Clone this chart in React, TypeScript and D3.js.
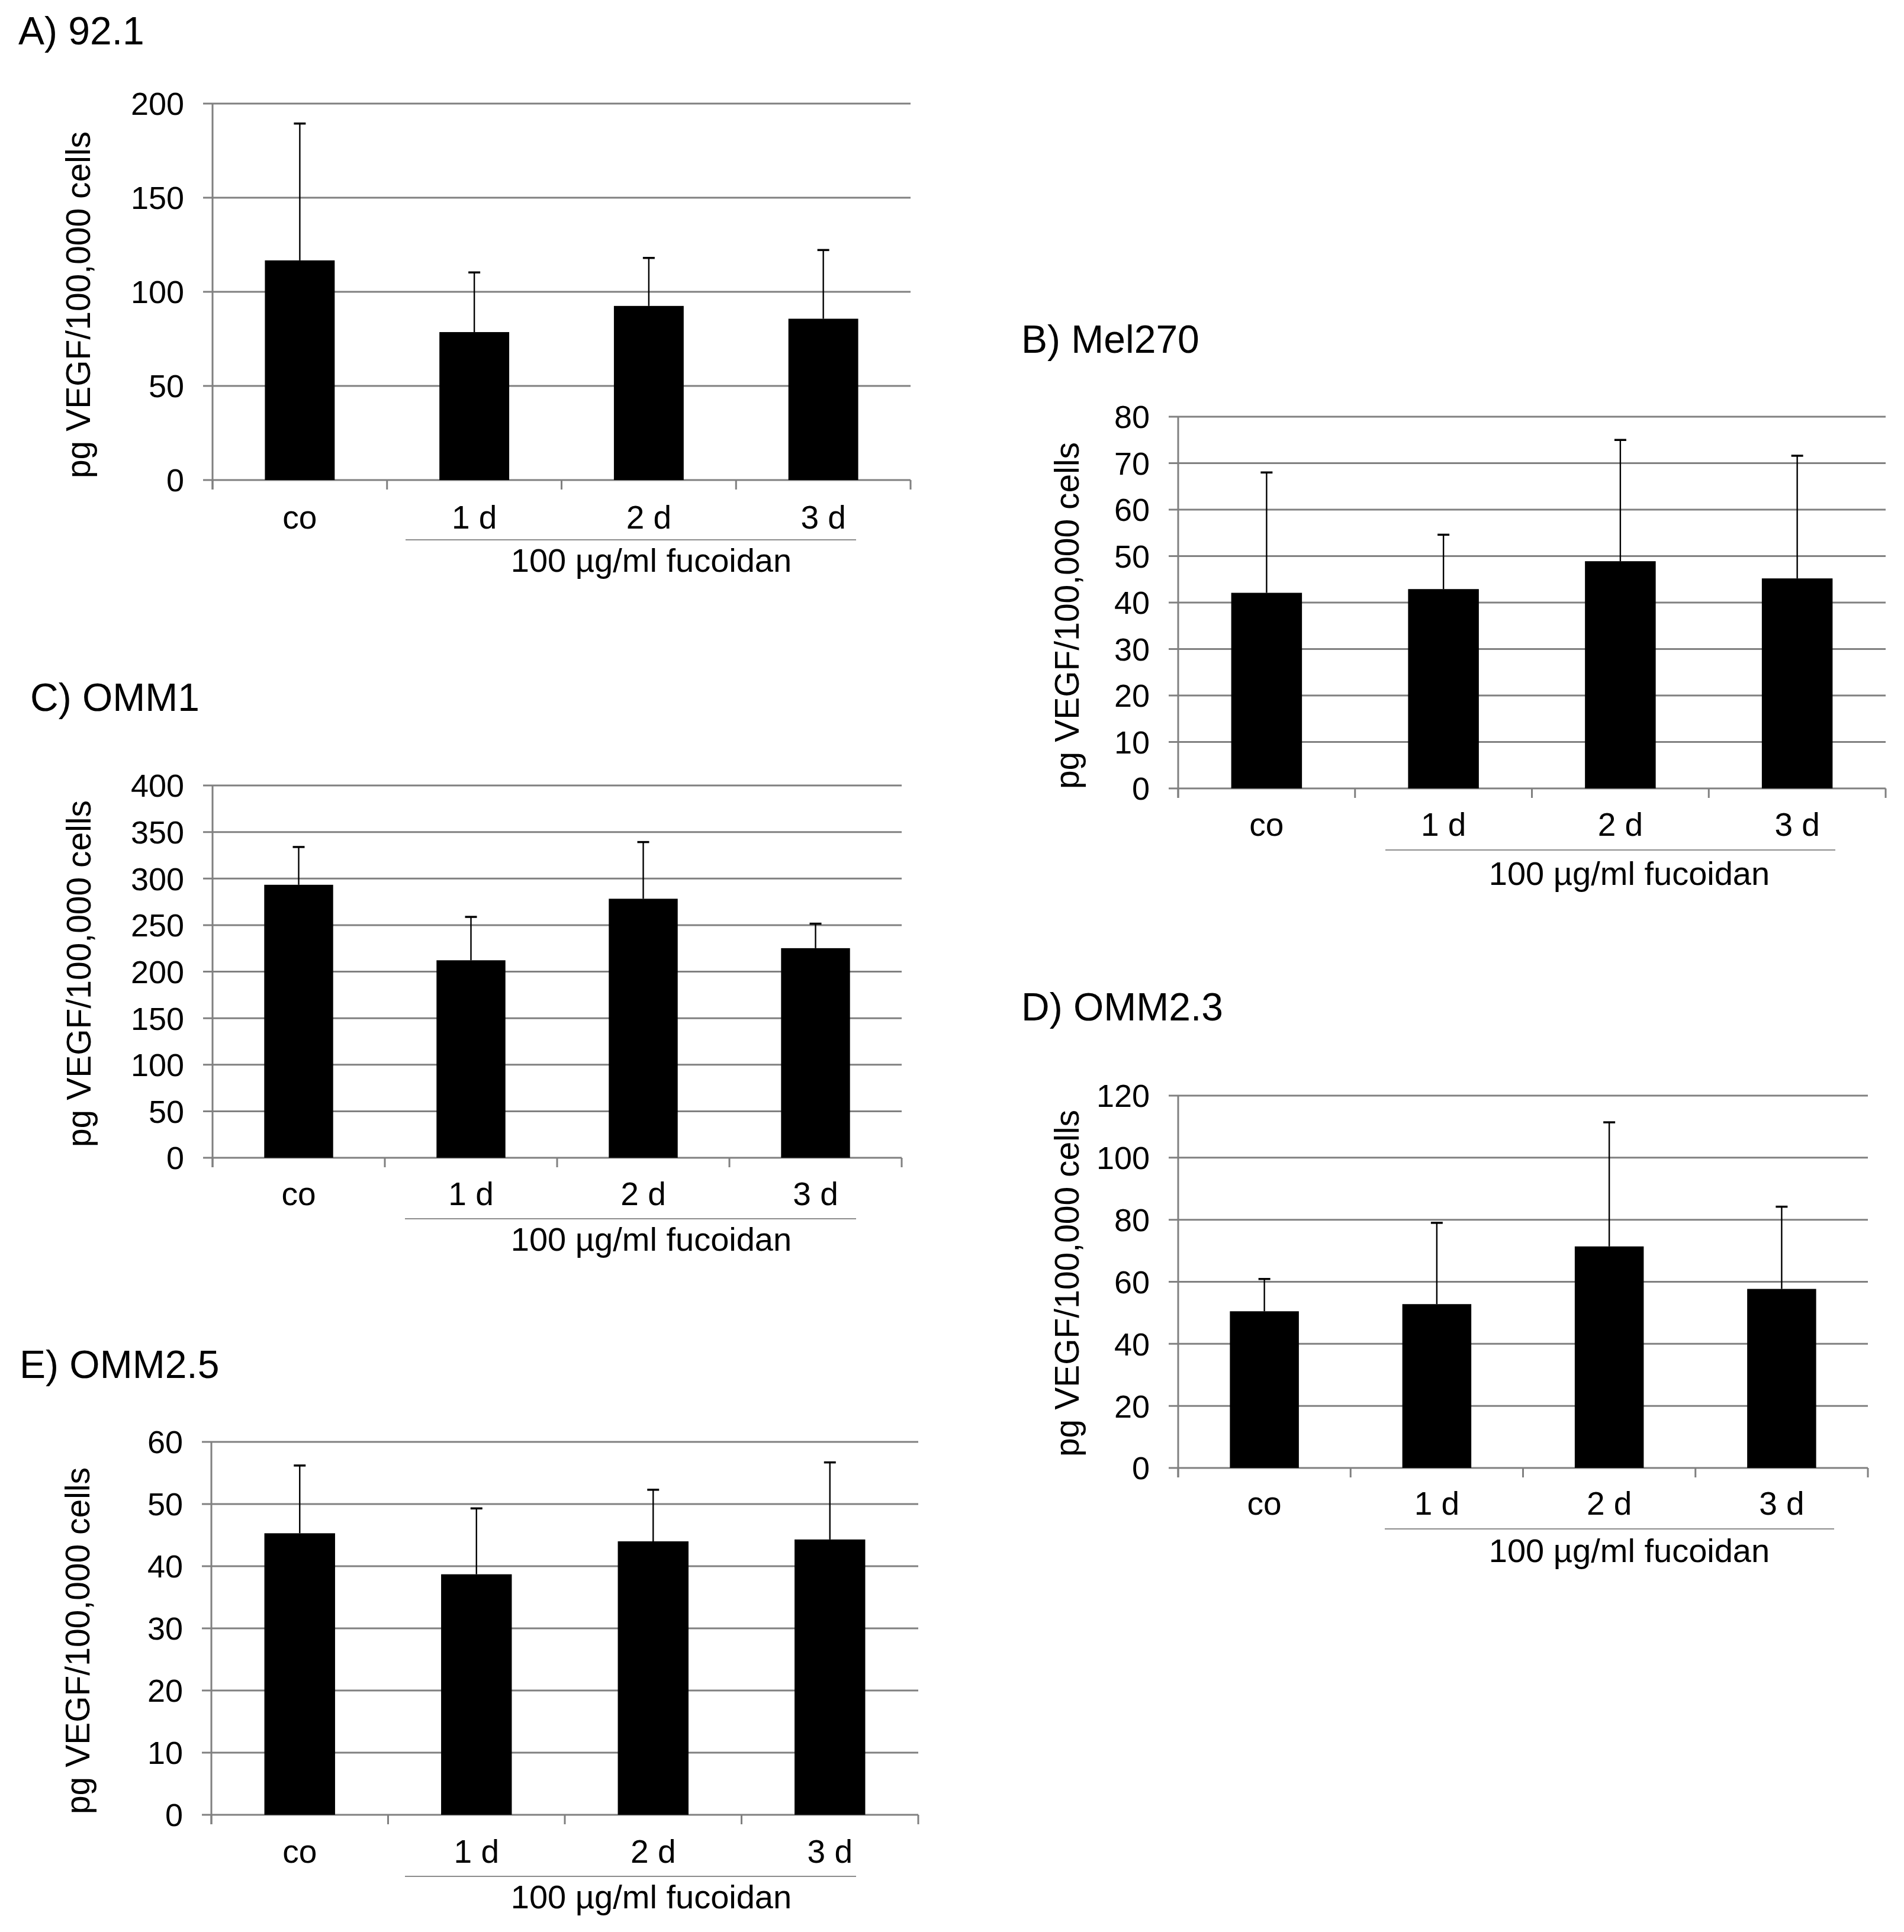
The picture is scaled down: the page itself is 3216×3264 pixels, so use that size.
import * as d3 from 'd3';

// groups on the x axis
const categories = ['co', '1 d', '2 d', '3 d'];

// panel titles
const titles = ['A) 92.1', 'B) Mel270', 'C) OMM1', 'D) OMM2.3', 'E) OMM2.5'];

// mean VEGF per panel
const meanA = [116.7, 78.6, 92.5, 85.7];
const meanB = [42.1, 42.9, 48.9, 45.2];
const meanC = [293.3, 212.2, 278.3, 225.2];
const meanD = [50.5, 52.8, 71.4, 57.7];
const meanE = [45.3, 38.7, 44.0, 44.3];

// standard deviation (upper error bar only)
const sdA = [72.7, 31.7, 25.5, 36.5];
const sdB = [25.9, 11.7, 26.1, 26.4];
const sdC = [40.6, 46.6, 60.9, 26.3];
const sdD = [10.4, 26.2, 40.0, 26.5];
const sdE = [10.9, 10.6, 8.3, 12.4];

// y axis ticks
const ticksA = [0, 50, 100, 150, 200];
const ticksB = [0, 10, 20, 30, 40, 50, 60, 70, 80];
const ticksC = [0, 50, 100, 150, 200, 250, 300, 350, 400];
const ticksD = [0, 20, 40, 60, 80, 100, 120];
const ticksE = [0, 10, 20, 30, 40, 50, 60];

const yLabel = 'pg VEGF/100,000 cells';
const treatment = '100 µg/ml fucoidan';

const FONT = '"Liberation Sans", Arial, Helvetica, sans-serif';
const GRID = '#808080';

interface Layout {
  left: number; right: number; top: number; bottom: number;
  titleX: number; titleY: number;
  catY: number; lineY: number; lineX1: number; lineX2: number;
  noteX: number; noteY: number;
  labelX: number; labelCY: number;
}

const layouts: Layout[] = [
  { left: 359, right: 1538, top: 175, bottom: 811, titleX: 31, titleY: 75, catY: 893, lineY: 912, lineX1: 685, lineX2: 1446, noteX: 1100, noteY: 966, labelX: 152, labelCY: 515 },
  { left: 1990, right: 3185, top: 704, bottom: 1332, titleX: 1725, titleY: 596, catY: 1412, lineY: 1436, lineX1: 2340, lineX2: 3100, noteX: 2752, noteY: 1495, labelX: 1822, labelCY: 1040 },
  { left: 359, right: 1523, top: 1327, bottom: 1956, titleX: 51, titleY: 1201, catY: 2036, lineY: 2059, lineX1: 684, lineX2: 1446, noteX: 1100, noteY: 2113, labelX: 153, labelCY: 1645 },
  { left: 1990, right: 3155, top: 1851, bottom: 2480, titleX: 1725, titleY: 1724, catY: 2559, lineY: 2583, lineX1: 2339, lineX2: 3098, noteX: 2752, noteY: 2639, labelX: 1822, labelCY: 2168 },
  { left: 357, right: 1551, top: 2436, bottom: 3066, titleX: 33, titleY: 2328, catY: 3147, lineY: 3170, lineX1: 684, lineX2: 1446, noteX: 1100, noteY: 3224, labelX: 151, labelCY: 2772 },
];

const means = [meanA, meanB, meanC, meanD, meanE];
const sds = [sdA, sdB, sdC, sdD, sdE];
const ticks = [ticksA, ticksB, ticksC, ticksD, ticksE];

const Panel = ({ idx }: { idx: number }) => {
  const L = layouts[idx];
  const mean = means[idx];
  const sd = sds[idx];
  const tv = ticks[idx];

  const x = d3.scaleBand<string>()
    .domain(categories)
    .range([L.left, L.right])
    .paddingInner(0)
    .paddingOuter(0);
  const y = d3.scaleLinear()
    .domain([0, tv[tv.length - 1]])
    .range([L.bottom, L.top]);

  const bw = x.bandwidth();
  const barW = bw * 0.4;
  const boundaries = [...categories.map(c => x(c) as number), L.right];

  return (
    <g>
      <text x={L.titleX} y={L.titleY} fontSize={66} fontFamily={FONT} fill="#000">{titles[idx]}</text>

      {/* grid */}
      {tv.map(t => (
        <g key={t}>
          <line x1={L.left - 16} x2={L.right} y1={y(t)} y2={y(t)} stroke={GRID} strokeWidth={3} />
          <text x={L.left - 48} y={y(t)} dy="0.36em" textAnchor="end" fontSize={54} fontFamily={FONT} fill="#000">{t}</text>
        </g>
      ))}

      {/* y axis */}
      <line x1={L.left} x2={L.left} y1={L.top} y2={L.bottom + 16} stroke={GRID} strokeWidth={3} />
      {boundaries.map((b, i) => (
        <line key={i} x1={b} x2={b} y1={L.bottom} y2={L.bottom + 16} stroke={GRID} strokeWidth={3} />
      ))}

      {/* bars + error bars */}
      {categories.map((c, i) => {
        const cx = (x(c) as number) + bw / 2;
        const top = y(mean[i] + sd[i]);
        return (
          <g key={c}>
            <line x1={cx} x2={cx} y1={y(mean[i])} y2={top} stroke="#000" strokeWidth={2.4} />
            <line x1={cx - 10} x2={cx + 10} y1={top} y2={top} stroke="#000" strokeWidth={3.5} />
            <rect x={cx - barW / 2} y={y(mean[i])} width={barW} height={L.bottom - y(mean[i])} fill="#000" />
          </g>
        );
      })}

      {/* category labels */}
      {categories.map(c => (
        <text key={c} x={(x(c) as number) + bw / 2} y={L.catY} textAnchor="middle" fontSize={55} fontFamily={FONT} fill="#000">{c}</text>
      ))}

      <line x1={L.lineX1} x2={L.lineX2} y1={L.lineY} y2={L.lineY} stroke="#8c8c8c" strokeWidth={2} />
      <text x={L.noteX} y={L.noteY} textAnchor="middle" fontSize={56} fontFamily={FONT} fill="#000">{treatment}</text>

      <text
        transform={`translate(${L.labelX},${L.labelCY}) rotate(-90)`}
        textAnchor="middle"
        fontSize={57}
        fontFamily={FONT}
        fill="#000"
      >{yLabel}</text>
    </g>
  );
};

export default function App() {
  return (
    <svg
      width={3216}
      height={3264}
      style={{ position: 'absolute', left: 0, top: 0, background: '#fff' }}
    >
      <rect width={3216} height={3264} fill="#fff" />
      {layouts.map((_, i) => <Panel key={i} idx={i} />)}
    </svg>
  );
}
